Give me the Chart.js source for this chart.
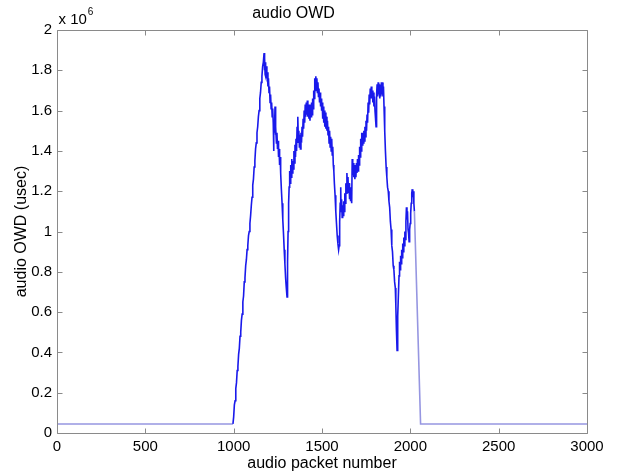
<!DOCTYPE html>
<html>
<head>
<meta charset="utf-8">
<script src="https://cdn.jsdelivr.net/npm/chart.js@4/dist/chart.umd.min.js"></script>
<style>
  html, body { margin: 0; padding: 0; background: #ffffff; }
  #wrap { width: 624px; height: 474px; }
</style>
</head>
<body>
<div id="wrap"><canvas id="c" width="624" height="474"></canvas></div>
<script>
// ---- data: [audio packet number, audio OWD in units of 10^6 usec] ----
const chartTitle = 'audio OWD';
const xAxisLabel = 'audio packet number';
const yAxisLabel = 'audio OWD (usec)';
const xTickValues = [0, 500, 1000, 1500, 2000, 2500, 3000];
const yTickValues = [0, 0.2, 0.4, 0.6, 0.8, 1, 1.2, 1.4, 1.6, 1.8, 2];

const flatStart = [[0, 0.045], [996, 0.045]];

const firstRise = [
  [1000, 0.08], [1004, 0.14], [1008, 0.16], [1012, 0.22], [1016, 0.25], [1020, 0.31], [1024, 0.33], [1028, 0.39],
  [1032, 0.42], [1036, 0.48], [1040, 0.50], [1044, 0.56], [1048, 0.59], [1052, 0.65], [1056, 0.68], [1060, 0.75],
  [1064, 0.77], [1068, 0.83], [1072, 0.86], [1076, 0.91], [1080, 0.93], [1084, 0.98], [1088, 1.00], [1092, 1.04],
  [1096, 1.08], [1100, 1.13], [1104, 1.17], [1108, 1.23], [1112, 1.26], [1116, 1.32], [1120, 1.35], [1124, 1.41],
  [1128, 1.44], [1132, 1.49], [1136, 1.52], [1140, 1.57], [1144, 1.60], [1148, 1.66], [1152, 1.69], [1156, 1.74],
  [1160, 1.77], [1164, 1.82], [1168, 1.84], [1172, 1.886]
];

const firstFall = [
  [1174, 1.80], [1176, 1.86], [1178, 1.78], [1180, 1.84], [1182, 1.77], [1185, 1.82], [1188, 1.76], [1191, 1.79],
  [1194, 1.72], [1197, 1.76], [1200, 1.69], [1203, 1.72], [1206, 1.64], [1209, 1.68], [1212, 1.61], [1215, 1.64],
  [1218, 1.57], [1221, 1.61], [1224, 1.54], [1226, 1.40], [1228, 1.55], [1231, 1.49], [1234, 1.62], [1236, 1.48],
  [1239, 1.52], [1242, 1.44], [1245, 1.49], [1248, 1.41], [1251, 1.45], [1254, 1.37], [1257, 1.41], [1260, 1.33],
  [1263, 1.37], [1266, 1.29], [1270, 1.21], [1274, 1.14], [1278, 1.06], [1282, 0.99], [1286, 0.91], [1290, 0.84],
  [1294, 0.77], [1298, 0.72], [1302, 0.675]
];

const secondRise = [
  [1305, 0.85], [1308, 1.00], [1311, 1.14], [1314, 1.22], [1317, 1.30], [1320, 1.24], [1323, 1.33], [1326, 1.27],
  [1329, 1.36], [1332, 1.29], [1335, 1.35], [1338, 1.31], [1341, 1.40], [1344, 1.34], [1347, 1.43], [1350, 1.37],
  [1353, 1.46], [1356, 1.40], [1359, 1.52], [1362, 1.44], [1364, 1.57], [1366, 1.46], [1369, 1.50], [1372, 1.42],
  [1375, 1.48], [1378, 1.41], [1381, 1.49], [1384, 1.44], [1387, 1.52], [1390, 1.47], [1393, 1.56], [1396, 1.51],
  [1399, 1.60], [1402, 1.54], [1405, 1.63], [1408, 1.57], [1411, 1.64], [1414, 1.58], [1417, 1.65], [1420, 1.57],
  [1423, 1.63], [1426, 1.56], [1429, 1.62], [1432, 1.55], [1435, 1.63], [1438, 1.57], [1441, 1.64], [1444, 1.58],
  [1447, 1.66], [1450, 1.61], [1453, 1.70], [1456, 1.66], [1459, 1.76], [1462, 1.70], [1465, 1.77], [1468, 1.71],
  [1471, 1.76]
];

const secondFall = [
  [1474, 1.69], [1477, 1.74], [1480, 1.67], [1483, 1.71], [1486, 1.64], [1489, 1.69], [1492, 1.62], [1495, 1.66],
  [1498, 1.60], [1501, 1.64], [1504, 1.56], [1507, 1.62], [1510, 1.54], [1513, 1.60], [1516, 1.52], [1519, 1.59],
  [1522, 1.51], [1525, 1.57], [1528, 1.50], [1531, 1.55], [1534, 1.48], [1537, 1.52], [1540, 1.44], [1543, 1.50],
  [1546, 1.42], [1549, 1.47], [1552, 1.40], [1555, 1.46], [1558, 1.38], [1561, 1.42], [1564, 1.33], [1567, 1.30],
  [1570, 1.24], [1574, 1.18], [1578, 1.10], [1582, 1.04], [1586, 0.98], [1590, 0.94], [1594, 0.91], [1597, 0.93]
];

const thirdRise = [
  [1600, 1.05], [1603, 1.14], [1606, 1.22], [1608, 1.10], [1611, 1.16], [1614, 1.07], [1617, 1.13], [1620, 1.08],
  [1623, 1.15], [1626, 1.10], [1629, 1.19], [1632, 1.14], [1635, 1.24], [1638, 1.19], [1641, 1.29], [1644, 1.22],
  [1647, 1.27], [1650, 1.19], [1653, 1.24], [1656, 1.16], [1659, 1.22], [1662, 1.15], [1665, 1.20], [1668, 1.14],
  [1671, 1.36], [1674, 1.28], [1677, 1.34], [1680, 1.27], [1683, 1.33], [1686, 1.26], [1689, 1.32], [1692, 1.27],
  [1695, 1.34], [1698, 1.29], [1701, 1.36], [1704, 1.30], [1707, 1.38], [1710, 1.33], [1713, 1.42], [1716, 1.37],
  [1719, 1.46], [1722, 1.40], [1725, 1.49], [1728, 1.43], [1731, 1.49], [1734, 1.44], [1737, 1.50], [1740, 1.45],
  [1743, 1.52], [1746, 1.47], [1749, 1.55], [1752, 1.50], [1755, 1.58], [1758, 1.54], [1761, 1.64], [1764, 1.59],
  [1767, 1.68], [1770, 1.63], [1773, 1.71], [1776, 1.66], [1779, 1.72], [1782, 1.66], [1785, 1.70], [1788, 1.64],
  [1791, 1.69], [1794, 1.62], [1797, 1.67], [1800, 1.60], [1803, 1.56], [1806, 1.52], [1809, 1.68], [1812, 1.73],
  [1815, 1.67], [1818, 1.74], [1821, 1.68], [1824, 1.73], [1827, 1.66], [1830, 1.72], [1833, 1.67], [1836, 1.74],
  [1839, 1.68], [1842, 1.74], [1845, 1.67], [1848, 1.72]
];

const thirdFall = [
  [1851, 1.62], [1855, 1.50], [1859, 1.40], [1863, 1.32], [1867, 1.27], [1871, 1.22], [1875, 1.20], [1879, 1.15],
  [1883, 1.12], [1887, 1.05], [1891, 1.01], [1895, 0.93], [1899, 0.90], [1903, 0.83], [1907, 0.81], [1911, 0.75],
  [1915, 0.72], [1918, 0.63], [1921, 0.52], [1925, 0.41]
];

const lastRise = [
  [1927, 0.48], [1930, 0.58], [1933, 0.70], [1936, 0.78], [1939, 0.85], [1942, 0.81], [1945, 0.88], [1948, 0.84],
  [1951, 0.91], [1954, 0.87], [1957, 0.94], [1960, 0.90], [1963, 0.97], [1966, 0.93], [1969, 1.00], [1972, 0.96],
  [1975, 1.05], [1978, 1.12], [1981, 1.06], [1984, 1.10], [1987, 1.01], [1990, 0.99], [1993, 0.95], [1996, 1.01],
  [1999, 1.04], [2002, 1.09], [2005, 1.14], [2008, 1.19], [2011, 1.21], [2014, 1.17], [2017, 1.20], [2020, 1.14],
  [2023, 1.10]
];

const flatEnd = [[2058, 0.045], [3000, 0.045]];

const segments = [flatStart, firstRise, firstFall, secondRise, secondFall, thirdRise, thirdFall, lastRise, flatEnd];
const points = segments.flat().map(([p, v]) => ({ x: p, y: v }));

const darkBlue = 'rgb(25,25,235)';
const lightBlue = 'rgb(150,150,225)';
const frameColor = '#8a8a8a';
const FONT = '"Liberation Sans", Arial, Helvetica, sans-serif';

const matlabFrame = {
  id: 'matlabFrame',
  afterDatasetsDraw(chart) {
    const { ctx, chartArea: a, scales: { x, y } } = chart;
    const L = Math.round(a.left) + 0.5, R = Math.round(a.right) + 0.5;
    const T = Math.round(a.top) + 0.5, B = Math.round(a.bottom) + 0.5;
    const tl = 5;
    ctx.save();
    ctx.strokeStyle = frameColor;
    ctx.lineWidth = 1;
    ctx.beginPath();
    ctx.rect(L, T, R - L, B - T);
    xTickValues.forEach(v => {
      const px = Math.round(x.getPixelForValue(v)) + 0.5;
      ctx.moveTo(px, B); ctx.lineTo(px, B - tl);
      ctx.moveTo(px, T); ctx.lineTo(px, T + tl);
    });
    yTickValues.forEach(v => {
      const py = Math.round(y.getPixelForValue(v)) + 0.5;
      ctx.moveTo(L, py); ctx.lineTo(L + tl, py);
      ctx.moveTo(R, py); ctx.lineTo(R - tl, py);
    });
    ctx.stroke();
    // exponent label
    ctx.fillStyle = '#000';
    ctx.textBaseline = 'middle';
    ctx.textAlign = 'left';
    ctx.font = '15px ' + FONT;
    ctx.fillText('x 10', L + 1, 20);
    const w = ctx.measureText('x 10').width;
    ctx.font = '10px ' + FONT;
    ctx.fillText('6', L + 2 + w, 12);
    ctx.restore();
  }
};

new Chart(document.getElementById('c'), {
  type: 'line',
  data: {
    datasets: [{
      data: points,
      borderColor: darkBlue,
      borderWidth: 1.6,
      pointRadius: 0,
      tension: 0,
      fill: false,
      segment: {
        borderColor: c => (c.p1.parsed.x - c.p0.parsed.x > 20 ? lightBlue : darkBlue)
      }
    }]
  },
  options: {
    responsive: false,
    animation: false,
    devicePixelRatio: 1,
    layout: { padding: { left: 0, right: 37, top: 0, bottom: 0 } },
    plugins: {
      legend: { display: false },
      tooltip: { enabled: false },
      title: {
        display: true,
        text: chartTitle,
        color: '#000',
        font: { family: FONT, size: 16, weight: 'normal', lineHeight: 1.2 },
        padding: { top: 4, bottom: 6.8 }
      }
    },
    scales: {
      x: {
        type: 'linear',
        min: 0, max: 3000,
        afterBuildTicks: s => { s.ticks = xTickValues.map(v => ({ value: v })); },
        afterFit: s => { s.height = 41; },
        grid: { display: false, drawTicks: false },
        border: { display: false },
        ticks: {
          color: '#000', padding: 5, maxRotation: 0, autoSkip: false,
          font: { family: FONT, size: 15 },
          callback: v => String(v)
        },
        title: {
          display: true, text: xAxisLabel, color: '#000',
          font: { family: FONT, size: 16, lineHeight: 1.2 },
          padding: { top: 0, bottom: 1 }
        }
      },
      y: {
        type: 'linear',
        min: 0, max: 2,
        afterBuildTicks: s => { s.ticks = yTickValues.map(v => ({ value: v })); },
        afterFit: s => { s.width = 57; },
        grid: { display: false, drawTicks: false },
        border: { display: false },
        ticks: {
          color: '#000', padding: 5, autoSkip: false,
          font: { family: FONT, size: 15 },
          callback: v => String(Number(v.toFixed(1)))
        },
        title: {
          display: true, text: yAxisLabel, color: '#000',
          font: { family: FONT, size: 16, lineHeight: 1.2 },
          padding: { top: 12, bottom: 0 }
        }
      }
    }
  },
  plugins: [matlabFrame]
});
</script>
</body>
</html>
